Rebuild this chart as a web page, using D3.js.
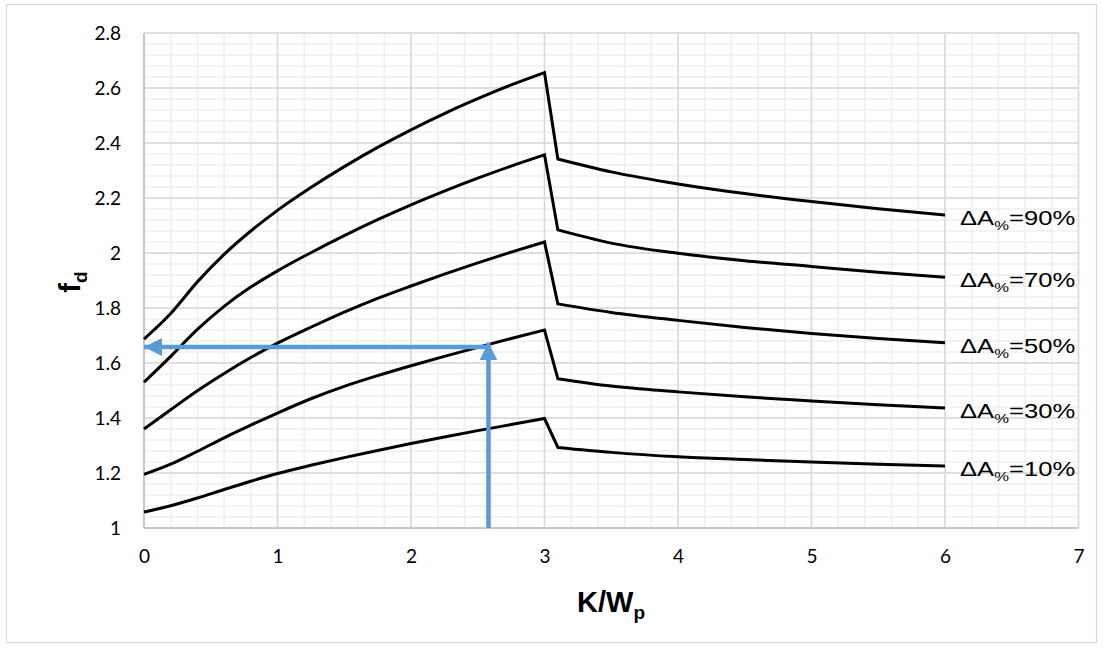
<!DOCTYPE html>
<html>
<head>
<meta charset="utf-8">
<script src="https://cdn.jsdelivr.net/npm/d3@7"></script>
<style>
  html, body { margin: 0; padding: 0; background: #fff; }
  svg { display: block; }
</style>
</head>
<body>
<svg id="chart" width="1103" height="648"></svg>
<script>
// Dynamic factor f_d against K/W_p for several area ratios
const xTicks = [0, 1, 2, 3, 4, 5, 6, 7];
const yTicks = [1, 1.2, 1.4, 1.6, 1.8, 2, 2.2, 2.4, 2.6, 2.8];

const kw = [0, 0.2, 0.4, 0.6, 0.8, 1, 1.25, 1.5, 1.75, 2, 2.25, 2.5, 2.75, 3,
            3.1, 3.5, 4, 4.5, 5, 5.5, 6];
const breakAt = 3; // last point before the drop

const seriesNames = ["ΔA%=90%", "ΔA%=70%", "ΔA%=50%", "ΔA%=30%", "ΔA%=10%"];

const fd90 = [1.687, 1.78, 1.895, 1.995, 2.08, 2.155, 2.238, 2.314, 2.384, 2.448, 2.507, 2.561, 2.611, 2.656,
              2.342, 2.295, 2.251, 2.216, 2.187, 2.161, 2.138];
const fd70 = [1.53, 1.624, 1.722, 1.806, 1.876, 1.935, 2.001, 2.063, 2.121, 2.175, 2.225, 2.272, 2.316, 2.357,
              2.084, 2.036, 1.999, 1.972, 1.951, 1.93, 1.912];
const fd50 = [1.36, 1.43, 1.499, 1.562, 1.62, 1.672, 1.73, 1.785, 1.835, 1.88, 1.923, 1.964, 2.003, 2.04,
              1.815, 1.784, 1.755, 1.729, 1.707, 1.689, 1.674];
const fd30 = [1.195, 1.232, 1.279, 1.328, 1.374, 1.418, 1.47, 1.515, 1.554, 1.59, 1.624, 1.657, 1.689, 1.72,
              1.543, 1.516, 1.495, 1.477, 1.462, 1.448, 1.436];
const fd10 = [1.058, 1.081, 1.109, 1.14, 1.17, 1.198, 1.228, 1.256, 1.282, 1.307, 1.331, 1.354, 1.376, 1.398,
              1.293, 1.275, 1.259, 1.249, 1.24, 1.232, 1.225];

// Worked example read-off: K/W_p = 2.58 gives f_d ≈ 1.66
const readX = 2.58;
const readY = 1.658;
const readTipY = 1.675;

const svg = d3.select("#chart");
const plot = { left: 144, right: 1078.5, top: 33, bottom: 528 };

// chart frame
svg.append("rect")
  .attr("x", 6.5).attr("y", 4.5)
  .attr("width", 1090).attr("height", 638)
  .attr("fill", "#fff").attr("stroke", "#d9d9d9").attr("stroke-width", 1.2);

const x = d3.scaleLinear().domain([0, 7]).range([plot.left, plot.right]);
const y = d3.scaleLinear().domain([1, 2.8]).range([plot.bottom, plot.top]);

// minor grid
const minorX = d3.range(0, 7.0001, 0.2);
const minorY = d3.range(1, 2.80001, 0.04);
const grid = svg.append("g");
grid.selectAll(".mx").data(minorX).join("line")
  .attr("x1", d => x(d)).attr("x2", d => x(d))
  .attr("y1", plot.top).attr("y2", plot.bottom)
  .attr("stroke", "#efefef").attr("stroke-width", 1.5);
grid.selectAll(".my").data(minorY).join("line")
  .attr("x1", plot.left).attr("x2", plot.right)
  .attr("y1", d => y(d)).attr("y2", d => y(d))
  .attr("stroke", "#efefef").attr("stroke-width", 1.5);
// major grid
grid.selectAll(".Mx").data(xTicks).join("line")
  .attr("x1", d => x(d)).attr("x2", d => x(d))
  .attr("y1", plot.top).attr("y2", plot.bottom)
  .attr("stroke", "#d9d9d9").attr("stroke-width", 1.5);
grid.selectAll(".My").data(yTicks).join("line")
  .attr("x1", plot.left).attr("x2", plot.right)
  .attr("y1", d => y(d)).attr("y2", d => y(d))
  .attr("stroke", "#d9d9d9").attr("stroke-width", 1.5);

// axis lines
svg.append("line").attr("x1", plot.left).attr("x2", plot.left)
  .attr("y1", plot.top).attr("y2", plot.bottom)
  .attr("stroke", "#bfbfbf").attr("stroke-width", 1.5);
svg.append("line").attr("x1", plot.left).attr("x2", plot.right)
  .attr("y1", plot.bottom).attr("y2", plot.bottom)
  .attr("stroke", "#bfbfbf").attr("stroke-width", 1.5);

// tick labels
const tickFont = "Lato, 'Open Sans', sans-serif";
const xAxis = svg.append("g")
  .attr("transform", `translate(0,${plot.bottom})`)
  .call(d3.axisBottom(x).tickValues(xTicks).tickSize(0).tickPadding(22).tickFormat(d3.format("d")));
const yAxis = svg.append("g")
  .attr("transform", `translate(${plot.left},0)`)
  .call(d3.axisLeft(y).tickValues(yTicks).tickSize(0).tickPadding(23).tickFormat(d => String(+d.toFixed(1))));
[xAxis, yAxis].forEach(a => {
  a.select(".domain").remove();
  a.selectAll("text").attr("font-family", tickFont).attr("font-size", 19).attr("fill", "#000");
});

// series curves: smooth rise, straight drop, smooth decay
const series = [fd90, fd70, fd50, fd30, fd10].map((vals, i) => ({
  name: seriesNames[i],
  points: kw.map((k, j) => [k, vals[j]])
}));
const smooth = d3.line().x(d => x(d[0])).y(d => y(d[1])).curve(d3.curveMonotoneX);
function seriesPath(pts) {
  const rise = pts.filter(p => p[0] <= breakAt);
  const fall = pts.filter(p => p[0] > breakAt);
  return smooth(rise) + smooth(fall).replace(/^M/, "L");
}
svg.append("g").selectAll("path").data(series).join("path")
  .attr("d", d => seriesPath(d.points))
  .attr("fill", "none").attr("stroke", "#000").attr("stroke-width", 3)
  .attr("stroke-linejoin", "miter");

// series labels
const labelFont = "'Liberation Sans', Arial, sans-serif";
const labels = svg.append("g").selectAll("text").data(series).join("text")
  .attr("transform", d => {
    const last = d.points[d.points.length - 1];
    return `translate(${x(last[0]) + 15},${y(last[1]) + 10}) scale(1.28,1)`;
  })
  .attr("font-family", labelFont).attr("font-size", 20).attr("fill", "#000");
labels.append("tspan").text(d => d.name.slice(0, 2));
labels.append("tspan").text("%").attr("font-size", 13).attr("dy", 5);
labels.append("tspan").text(d => d.name.slice(3)).attr("dy", -5);

// read-off arrows
const blue = "#5b9bd5";
const defs = svg.append("defs");
defs.append("marker").attr("id", "head")
  .attr("viewBox", "0 0 10 10").attr("refX", 10).attr("refY", 5)
  .attr("markerWidth", 4).attr("markerHeight", 4).attr("markerUnits", "strokeWidth")
  .attr("orient", "auto")
  .append("path").attr("d", "M0,0 L10,5 L0,10 Z").attr("fill", blue);

const arrowLine = d3.line().x(d => x(d[0])).y(d => y(d[1]));
svg.append("path")
  .attr("d", arrowLine([[readX, 1], [readX, readTipY]]))
  .attr("stroke", blue).attr("stroke-width", 4.5).attr("fill", "none")
  .attr("marker-end", "url(#head)");
svg.append("path")
  .attr("d", arrowLine([[readX, readY], [0, readY]]))
  .attr("stroke", blue).attr("stroke-width", 4.5).attr("fill", "none")
  .attr("marker-end", "url(#head)");

// axis titles
const titleFont = "'Liberation Sans', Arial, sans-serif";
const xt = svg.append("text")
  .attr("x", 611).attr("y", 612).attr("text-anchor", "middle")
  .attr("font-family", titleFont).attr("font-weight", "bold").attr("font-size", 29).attr("fill", "#000");
xt.append("tspan").text("K/W");
xt.append("tspan").text("p").attr("font-size", 19).attr("dy", 7);

const yt = svg.append("text")
  .attr("transform", "translate(80,282) rotate(-90)")
  .attr("text-anchor", "middle")
  .attr("font-family", titleFont).attr("font-weight", "bold").attr("font-size", 29).attr("fill", "#000");
yt.append("tspan").text("f");
yt.append("tspan").text("d").attr("font-size", 19).attr("dy", 7);
</script>
</body>
</html>
